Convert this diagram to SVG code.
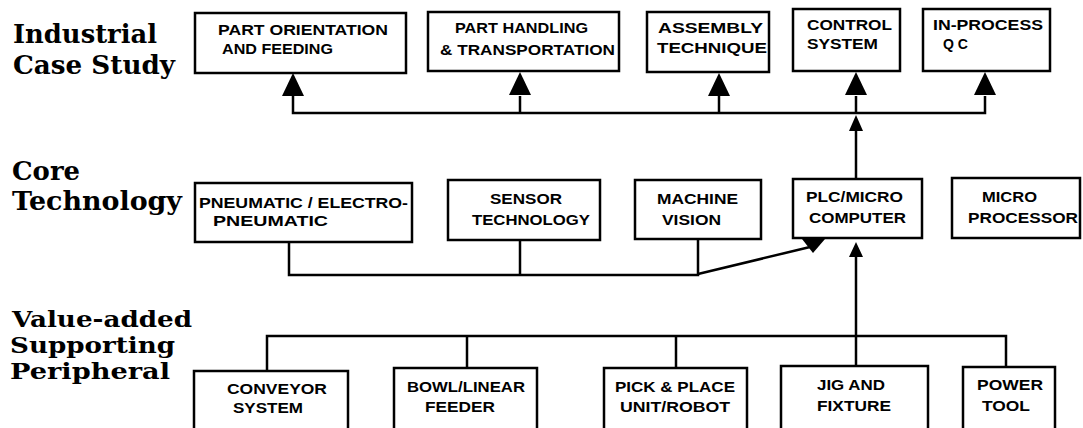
<svg xmlns="http://www.w3.org/2000/svg" width="1083" height="428" viewBox="0 0 1083 428">
<style>
.box{fill:#fff;stroke:#000;stroke-width:2.5}
.ln{fill:none;stroke:#000;stroke-width:2.5}
.ah{fill:#000;stroke:none}
.t{font-family:"Liberation Sans",Arial,sans-serif;font-weight:bold;font-size:15.5px;fill:#000}
.h{font-family:"DejaVu Serif","Liberation Serif",serif;font-weight:bold;font-size:25.5px;fill:#000}
.hs{font-size:21.5px}
</style>
<rect width="1083" height="428" fill="#fff"/>
<g id="labels">
<text class="h" x="13" y="43" textLength="144" lengthAdjust="spacingAndGlyphs">Industrial</text>
<text class="h" x="13" y="74" textLength="162" lengthAdjust="spacingAndGlyphs">Case Study</text>
<text class="h" x="12" y="180" textLength="68" lengthAdjust="spacingAndGlyphs">Core</text>
<text class="h" x="12" y="210" textLength="170" lengthAdjust="spacingAndGlyphs">Technology</text>
<text class="h hs" x="12" y="327" textLength="180" lengthAdjust="spacingAndGlyphs">Value-added</text>
<text class="h hs" x="10" y="353" textLength="165" lengthAdjust="spacingAndGlyphs">Supporting</text>
<text class="h hs" x="10" y="379" textLength="160" lengthAdjust="spacingAndGlyphs">Peripheral</text>
</g>
<g id="connectors">
<polyline class="ln" points="293,96 293,113 985,113 985,96"/>
<line class="ln" x1="520" y1="96" x2="520" y2="113"/>
<line class="ln" x1="719" y1="96" x2="719" y2="113"/>
<line class="ln" x1="856" y1="96" x2="856" y2="113"/>
<line class="ln" x1="856" y1="128" x2="856" y2="179"/>
<polygon class="ah" points="293,73 282,96 304,96"/>
<polygon class="ah" points="520,72 509,95 531,95"/>
<polygon class="ah" points="719,73 708,96 730,96"/>
<polygon class="ah" points="856,72 845,95 867,95"/>
<polygon class="ah" points="985,72 974,95 996,95"/>
<polygon class="ah" points="856,115 849,131 863,131"/>
<polyline class="ln" points="289,242 289,275 698,275 698,239"/>
<line class="ln" x1="520" y1="240" x2="520" y2="275"/>
<line class="ln" x1="698" y1="274" x2="810" y2="247"/>
<polygon class="ah" points="802,239 825,239 813,253"/>
<polygon class="ah" points="856,242 849,257 863,257"/>
<line class="ln" x1="856" y1="255" x2="856" y2="336"/>
<polyline class="ln" points="267,371 267,336 1006,336 1006,367"/>
<line class="ln" x1="467" y1="336" x2="467" y2="368"/>
<line class="ln" x1="676" y1="336" x2="676" y2="368"/>
<line class="ln" x1="856" y1="336" x2="856" y2="366"/>
</g>
<g id="n-part-orientation">
<rect class="box" x="195" y="13" width="211" height="60"/>
<text class="t" x="218" y="35" textLength="170" lengthAdjust="spacingAndGlyphs">PART ORIENTATION</text>
<text class="t" x="222" y="54" textLength="111" lengthAdjust="spacingAndGlyphs">AND FEEDING</text>
</g>
<g id="n-part-handling">
<rect class="box" x="428" y="12" width="191" height="59"/>
<text class="t" x="455" y="33" textLength="133" lengthAdjust="spacingAndGlyphs">PART HANDLING</text>
<text class="t" x="440" y="55" textLength="175" lengthAdjust="spacingAndGlyphs">&amp; TRANSPORTATION</text>
</g>
<g id="n-assembly">
<rect class="box" x="647" y="12" width="122" height="60"/>
<text class="t" x="658" y="33" textLength="105" lengthAdjust="spacingAndGlyphs">ASSEMBLY</text>
<text class="t" x="657" y="53" textLength="110" lengthAdjust="spacingAndGlyphs">TECHNIQUE</text>
</g>
<g id="n-control">
<rect class="box" x="793" y="9" width="107" height="62"/>
<text class="t" x="807" y="30" textLength="85" lengthAdjust="spacingAndGlyphs">CONTROL</text>
<text class="t" x="807" y="49" textLength="71" lengthAdjust="spacingAndGlyphs">SYSTEM</text>
</g>
<g id="n-inprocess">
<rect class="box" x="923" y="9" width="127" height="62"/>
<text class="t" x="933" y="30" textLength="110" lengthAdjust="spacingAndGlyphs">IN-PROCESS</text>
<text class="t" x="943" y="49" textLength="25" lengthAdjust="spacingAndGlyphs">Q C</text>
</g>
<g id="n-pneumatic">
<rect class="box" x="195" y="183" width="217" height="59"/>
<text class="t" x="199" y="208" textLength="209" lengthAdjust="spacingAndGlyphs">PNEUMATIC / ELECTRO-</text>
<text class="t" x="213" y="226" textLength="115" lengthAdjust="spacingAndGlyphs">PNEUMATIC</text>
</g>
<g id="n-sensor">
<rect class="box" x="448" y="180" width="152" height="60"/>
<text class="t" x="490" y="204" textLength="72" lengthAdjust="spacingAndGlyphs">SENSOR</text>
<text class="t" x="472" y="225" textLength="118" lengthAdjust="spacingAndGlyphs">TECHNOLOGY</text>
</g>
<g id="n-machine">
<rect class="box" x="635" y="180" width="126" height="59"/>
<text class="t" x="657" y="204" textLength="81" lengthAdjust="spacingAndGlyphs">MACHINE</text>
<text class="t" x="662" y="225" textLength="59" lengthAdjust="spacingAndGlyphs">VISION</text>
</g>
<g id="n-plc">
<rect class="box" x="793" y="179" width="129" height="59"/>
<text class="t" x="806" y="202" textLength="97" lengthAdjust="spacingAndGlyphs">PLC/MICRO</text>
<text class="t" x="809" y="223" textLength="97" lengthAdjust="spacingAndGlyphs">COMPUTER</text>
</g>
<g id="n-microprocessor">
<rect class="box" x="952" y="178" width="128" height="60"/>
<text class="t" x="982" y="202" textLength="55" lengthAdjust="spacingAndGlyphs">MICRO</text>
<text class="t" x="968" y="223" textLength="110" lengthAdjust="spacingAndGlyphs">PROCESSOR</text>
</g>
<g id="n-conveyor">
<rect class="box" x="194" y="371" width="154" height="70"/>
<text class="t" x="227" y="394" textLength="100" lengthAdjust="spacingAndGlyphs">CONVEYOR</text>
<text class="t" x="233" y="413" textLength="70" lengthAdjust="spacingAndGlyphs">SYSTEM</text>
</g>
<g id="n-bowl">
<rect class="box" x="394" y="368" width="143" height="73"/>
<text class="t" x="407" y="392" textLength="118" lengthAdjust="spacingAndGlyphs">BOWL/LINEAR</text>
<text class="t" x="425" y="412" textLength="70" lengthAdjust="spacingAndGlyphs">FEEDER</text>
</g>
<g id="n-pick">
<rect class="box" x="604" y="368" width="143" height="73"/>
<text class="t" x="615" y="392" textLength="120" lengthAdjust="spacingAndGlyphs">PICK &amp; PLACE</text>
<text class="t" x="620" y="412" textLength="110" lengthAdjust="spacingAndGlyphs">UNIT/ROBOT</text>
</g>
<g id="n-jig">
<rect class="box" x="781" y="366" width="147" height="75"/>
<text class="t" x="817" y="390" textLength="68" lengthAdjust="spacingAndGlyphs">JIG AND</text>
<text class="t" x="817" y="411" textLength="74" lengthAdjust="spacingAndGlyphs">FIXTURE</text>
</g>
<g id="n-power">
<rect class="box" x="963" y="367" width="92" height="74"/>
<text class="t" x="977" y="390" textLength="66" lengthAdjust="spacingAndGlyphs">POWER</text>
<text class="t" x="982" y="411" textLength="48" lengthAdjust="spacingAndGlyphs">TOOL</text>
</g>
</svg>
